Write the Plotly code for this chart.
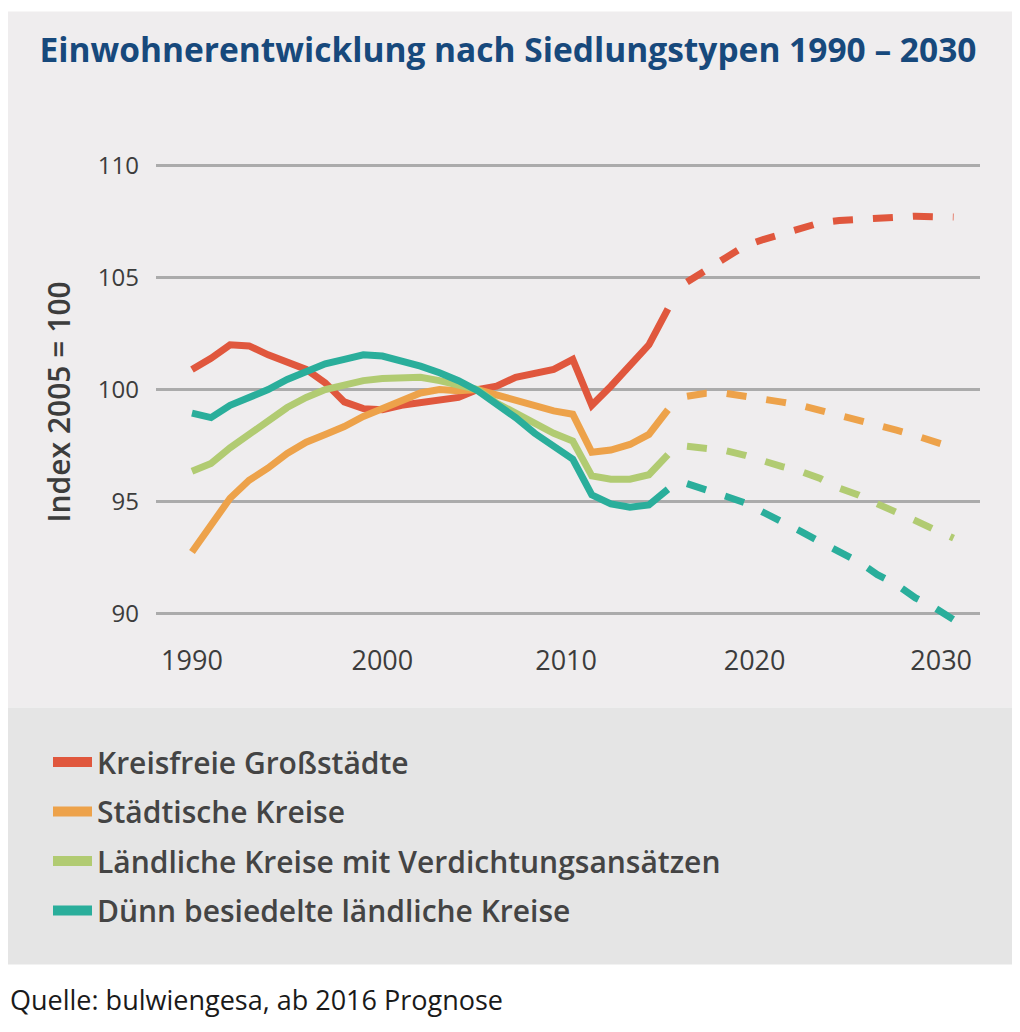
import plotly.graph_objects as go

# ---------------- data ----------------
years_hist = list(range(1990, 2016))
years_fc = list(range(2016, 2031))

series_names = [
    "Kreisfreie Großstädte",
    "Städtische Kreise",
    "Ländliche Kreise mit Verdichtungsansätzen",
    "Dünn besiedelte ländliche Kreise",
]

grossstaedte_hist = [100.9, 101.4, 102.0, 101.95, 101.55, 101.25, 100.9, 100.3, 99.45, 99.15,
                     99.1, 99.3, 99.4, 99.5, 99.65, 100.0, 100.15, 100.55, 100.75, 100.9,
                     101.35, 99.3, 100.15, 101.05, 102.0, 103.6]
staedtische_hist = [92.75, 93.95, 95.15, 95.95, 96.5, 97.15, 97.65, 98.0, 98.35, 98.8,
                    99.15, 99.55, 99.85, 100.0, 99.95, 100.0, 99.75, 99.55, 99.25, 99.05,
                    98.9, 97.2, 97.3, 97.55, 98.0, 99.1]
laendlich_hist = [96.35, 96.7, 97.4, 98.0, 98.6, 99.2, 99.65, 100.0, 100.2, 100.4,
                  100.5, 100.55, 100.55, 100.4, 100.2, 100.0, 99.4, 98.95, 98.45, 98.05,
                  97.7, 96.15, 96.0, 96.0, 96.2, 97.1]
duenn_hist = [98.95, 98.75, 99.3, 99.65, 100.0, 100.45, 100.8, 101.15, 101.35, 101.55,
              101.5, 101.3, 101.05, 100.75, 100.4, 99.95, 99.35, 98.75, 98.05, 97.45,
              96.9, 95.3, 94.9, 94.75, 94.85, 95.55]

grossstaedte_fc = [104.8, 105.35, 105.9, 106.4, 106.7, 106.95, 107.25, 107.45, 107.55, 107.6,
                   107.68, 107.72, 107.74, 107.72, 107.7]
staedtische_fc = [99.7, 99.84, 99.84, 99.73, 99.55, 99.44, 99.29, 99.08, 98.88, 98.66,
                  98.42, 98.19, 97.95, 97.68, 97.4]
laendlich_fc = [97.47, 97.4, 97.28, 97.08, 96.8, 96.56, 96.34, 96.03, 95.6, 95.3,
                94.9, 94.55, 94.15, 93.75, 93.37]
duenn_fc = [95.8, 95.56, 95.25, 94.96, 94.55, 94.15, 93.66, 93.2, 92.77, 92.32,
            91.74, 91.3, 90.7, 90.27, 89.73]

x_tick_labels = ["1990", "2000", "2010", "2020", "2030"]
x_tick_positions = [1990, 2000, 2009.65, 2019.55, 2029.35]
y_tick_values = [90, 95, 100, 105, 110]

# ---------------- style ----------------
colors = ["#e0573d", "#eda24a", "#b1cb72", "#2aae9b"]
hist = [grossstaedte_hist, staedtische_hist, laendlich_hist, duenn_hist]
fc = [grossstaedte_fc, staedtische_fc, laendlich_fc, duenn_fc]
FONT = "Open Sans"

OFF = 8  # page body margin
W, H = 1020, 1032
M_L, M_T = 156 - OFF, 132.4 - OFF
plot_w, plot_h = 824, 504
M_R = W - M_L - plot_w
M_B = H - M_T - plot_h


def py2paper(py):
    return (M_T + plot_h - (py - OFF)) / plot_h


def px2paper(px):
    return ((px - OFF) - M_L) / plot_w


fig = go.Figure()

for name, col, yh, yf in zip(series_names, colors, hist, fc):
    fig.add_trace(go.Scatter(x=years_hist, y=yh, mode="lines",
                             line=dict(color=col, width=7),
                             showlegend=False, hoverinfo="skip"))
    fig.add_trace(go.Scatter(x=years_fc, y=yf, mode="lines",
                             line=dict(color=col, width=7, dash="20px,20px"),
                             showlegend=False, hoverinfo="skip"))

for i, (name, col) in enumerate(zip(series_names, colors)):
    fig.add_trace(go.Scatter(x=[None], y=[None], mode="lines", name=name,
                             line=dict(color=col, width=12),
                             legendgroup=f"g{i}", showlegend=True))

shapes = [
    dict(type="rect", xref="paper", yref="paper", layer="below",
         x0=px2paper(7), x1=px2paper(1012), y0=py2paper(708), y1=py2paper(12),
         fillcolor="#efedee", line=dict(width=0)),
    dict(type="rect", xref="paper", yref="paper", layer="below",
         x0=px2paper(7), x1=px2paper(1012), y0=py2paper(965), y1=py2paper(708),
         fillcolor="#e5e5e5", line=dict(width=0)),
]

annotations = [
    dict(text="Index 2005 = 100", xref="paper", yref="paper",
         x=px2paper(59), y=py2paper(403), textangle=-90, showarrow=False,
         xanchor="center", yanchor="middle",
         font=dict(family=FONT, size=30, weight=600, color="#3c3c3c")),
    dict(text="Quelle: bulwiengesa, ab 2016 Prognose", xref="paper", yref="paper",
         x=px2paper(8), y=py2paper(1000), showarrow=False,
         xanchor="left", yanchor="middle",
         font=dict(family=FONT, size=27, color="#1a1a1a")),
]

fig.update_layout(
    width=W, height=H,
    margin=dict(l=M_L, r=M_R, t=M_T, b=M_B, autoexpand=False),
    paper_bgcolor="white",
    plot_bgcolor="rgba(0,0,0,0)",
    title=dict(text="<b>Einwohnerentwicklung nach Siedlungstypen 1990 – 2030</b>",
               x=(508 - OFF) / W, xref="container", xanchor="center",
               y=1 - (50 - OFF) / H, yref="container", yanchor="middle",
               font=dict(family=FONT, size=33.5, color="#17497c")),
    shapes=shapes,
    annotations=annotations,
    showlegend=True,
    legend=dict(xref="container", yref="container",
                x=(48 - OFF) / W, y=1 - (736 - OFF) / H, xanchor="left", yanchor="top",
                bgcolor="rgba(0,0,0,0)", borderwidth=0,
                font=dict(family=FONT, size=30, weight=600, color="#444444"),
                tracegroupgap=7.5, itemwidth=39),
    xaxis=dict(range=[1988.11, 2031.39], showgrid=False, zeroline=False,
               showline=False, tickmode="array", tickvals=x_tick_positions,
               ticktext=x_tick_labels, ticks="", ticklabelstandoff=6,
               tickfont=dict(family=FONT, size=27, color="#3c3c3c")),
    yaxis=dict(range=[89, 111.5], showgrid=True, gridcolor="#ababab", gridwidth=3,
               zeroline=False, showline=False, tickmode="array",
               tickvals=y_tick_values, ticks="", ticklabelstandoff=16,
               tickfont=dict(family=FONT, size=24, color="#3c3c3c")),
)

fig.write_html("out.html")
